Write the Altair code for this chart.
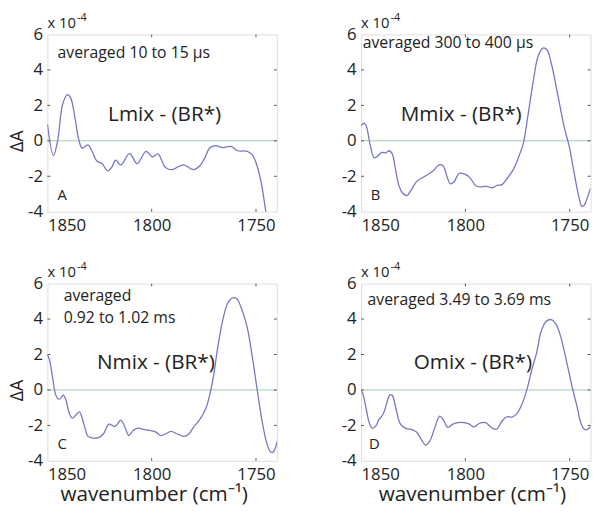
import altair as alt
import pandas as pd

# ---------------- data ----------------
X_DOMAIN = [1740, 1850]
Y_DOMAIN = [-4, 6]
X_TICKS = [1850, 1800, 1750]
Y_TICKS = [-4, -2, 0, 2, 4, 6]

wn_A = [1850, 1847.1, 1845.1, 1842.7, 1840.4, 1838.8, 1836.8, 1834.9, 1833.3, 1830.6,
        1828.6, 1826.3, 1823.9, 1821.1, 1819.2, 1817.3, 1814.8, 1810.6, 1807.0, 1802.7,
        1799.6, 1797.0, 1793.4, 1790.2, 1787.9, 1784.7, 1780.0, 1776.9, 1774.5, 1772.2,
        1769.4, 1765.9, 1762.0, 1758.9, 1754.2, 1751.8, 1749.5, 1747.4, 1745.8, 1744.8, 1744.0]
dA_A = [0.95, -0.83, 0.0, 2.05, 2.6, 2.41, 1.32, 0.04, -0.41, -0.23,
        -0.59, -1.14, -1.27, -1.69, -1.5, -1.09, -1.36, -0.72, -1.29, -0.59,
        -0.9, -0.74, -1.5, -1.63, -1.5, -1.36, -1.63, -1.41, -0.96, -0.41,
        -0.27, -0.38, -0.32, -0.56, -0.59, -0.78, -1.41, -2.42, -3.6, -4.4, -5.2]

wn_B = [1850, 1848.4, 1847.3, 1845.8, 1843.7, 1842.1, 1840.1, 1838.2, 1836.6, 1835.1,
        1833.5, 1831.9, 1830.0, 1828.0, 1826.0, 1823.3, 1819.4, 1815.4, 1812.6, 1810.7,
        1808.7, 1807.3, 1805.5, 1802.9, 1800.5, 1797.7, 1795.0, 1792.6, 1790.3, 1787.1,
        1784.8, 1782.4, 1780.1, 1776.9, 1774.6, 1772.2, 1769.9, 1767.5, 1765.1, 1762.8,
        1760.9, 1758.9, 1755.7, 1752.6, 1750.2, 1747.9, 1745.8, 1744.2, 1743.1, 1741.6, 1740.0]
dA_B = [0.86, 0.99, 0.77, -0.14, -0.96, -0.87, -0.65, -0.68, -0.56, -0.72,
        -1.6, -2.51, -2.96, -3.09, -2.78, -2.29, -2.0, -1.69, -1.36, -1.41,
        -2.05, -2.42, -2.32, -1.83, -1.87, -2.09, -2.54, -2.6, -2.56, -2.65,
        -2.51, -2.47, -2.14, -1.6, -0.96, -0.14, 1.5, 3.32, 4.78, 5.23,
        5.14, 4.42, 2.6, 0.77, -0.32, -1.78, -3.05, -3.69, -3.65, -3.23, -2.69]

wn_C = [1850, 1849.0, 1847.4, 1846.2, 1845.1, 1844.0, 1842.4, 1841.1, 1839.6, 1838.0,
        1836.1, 1834.6, 1832.5, 1830.5, 1828.3, 1825.5, 1823.1, 1820.5, 1817.6, 1814.8,
        1812.5, 1811.0, 1809.0, 1806.7, 1803.5, 1800.4, 1798.0, 1795.7, 1793.3, 1790.7,
        1787.9, 1784.7, 1782.4, 1780.0, 1776.9, 1774.1, 1772.2, 1770.6, 1768.3, 1765.9,
        1763.6, 1761.2, 1759.3, 1757.3, 1754.2, 1751.8, 1749.5, 1747.1, 1744.8, 1743.2,
        1742.1, 1740.5, 1740.0]
dA_C = [1.98, 1.7, 0.61, -0.2, -0.48, -0.51, -0.29, -0.57, -1.29, -1.6,
        -1.38, -1.24, -1.93, -2.62, -2.71, -2.69, -2.47, -1.93, -2.06, -1.7,
        -2.2, -2.57, -2.3, -2.15, -2.24, -2.3, -2.38, -2.57, -2.47, -2.33,
        -2.47, -2.62, -2.51, -2.11, -1.66, -1.06, -0.29, 0.62, 2.43, 3.97,
        4.88, 5.19, 5.16, 4.7, 3.52, 1.89, 0.07, -1.75, -3.02, -3.47,
        -3.53, -3.2, -2.9]

wn_D = [1850, 1849.2, 1847.6, 1846.1, 1844.5, 1842.9, 1841.4, 1839.5, 1837.9, 1836.3,
        1835.1, 1833.5, 1831.1, 1828.8, 1825.6, 1823.3, 1820.9, 1819.0, 1817.0, 1814.6,
        1812.3, 1810.7, 1808.4, 1806.0, 1803.6, 1800.5, 1798.1, 1795.8, 1793.4, 1790.3,
        1787.9, 1786.4, 1784.8, 1782.4, 1780.1, 1777.7, 1775.4, 1773.0, 1770.6, 1768.3,
        1765.9, 1763.6, 1761.2, 1758.9, 1756.5, 1754.2, 1751.0, 1748.6, 1746.3, 1744.7,
        1743.1, 1741.6, 1740.0]
dA_D = [-0.02, -0.2, -1.02, -1.84, -2.17, -2.02, -1.66, -1.38, -0.84, -0.29,
        -0.29, -0.93, -1.93, -2.15, -2.24, -2.38, -2.84, -3.11, -2.87, -2.11,
        -1.47, -1.66, -2.11, -1.93, -1.84, -1.84, -1.93, -2.08, -1.89, -1.84,
        -2.08, -2.2, -2.2, -1.75, -1.51, -1.53, -1.35, -0.84, -0.02, 1.07,
        2.07, 3.34, 3.88, 3.97, 3.7, 2.97, 1.34, 0.07, -1.02, -1.84,
        -2.2, -2.24, -2.06]

# annotation texts: (text, wavenumber, value)
notes_A = [("averaged 10 to 15 μs", 1845.1, 4.69)]
notes_B = [("averaged 300 to 400 μs", 1849.2, 5.23)]
notes_C = [("averaged", 1842.2, 5.02), ("0.92 to 1.02 ms", 1842.2, 3.79)]
notes_D = [("averaged 3.49 to 3.69 ms", 1846.9, 4.8)]

labels_main = {"A": ("Lmix - (BR*)", 1793.8, 1.14), "B": ("Mmix - (BR*)", 1802.0, 1.14),
               "C": ("Nmix - (BR*)", 1798.0, 1.16), "D": ("Omix - (BR*)", 1796.4, 1.16)}
letters = {"A": (1845.1, -3.34), "B": (1845.3, -3.34), "C": (1845.1, -3.32), "D": (1846.2, -3.32)}

X_TITLE = "wavenumber (cm⁻¹)"
Y_TITLE = "ΔA"

# ---------------- styling ----------------
FONT = "Open Sans"
CURVE = "#7676c6"
ZERO = "#9ccbb8"
BOX = "#555555"
TXT = "#222222"
W, H = 233, 180
TICK_X = 1.4   # inward tick length in wavenumber units
TICK_Y = 0.16  # inward tick length in dA units


def panel(key, wn, dA, notes, show_x_title, show_y_title, xtitle_x):
    xs = alt.Scale(domain=X_DOMAIN, reverse=True, nice=False, zero=False)
    ys = alt.Scale(domain=Y_DOMAIN, nice=False, zero=False)

    xaxis = alt.Axis(values=X_TICKS, ticks=False, domain=False, grid=False,
                     labelFontSize=17, labelPadding=6, labelColor=TXT, labelFont=FONT,
                     labelExpr="'' + datum.value",
                     title=X_TITLE if show_x_title else "",
                     titleFontSize=21, titleFontWeight="normal", titleColor=TXT, titleFont=FONT,
                     titleX=xtitle_x, titleY=40, titleBaseline="alphabetic", titleAlign="center")
    yaxis = alt.Axis(values=Y_TICKS, ticks=False, domain=False, grid=False,
                     labelFontSize=17, labelPadding=5, labelColor=TXT, labelFont=FONT,
                     labelExpr="'' + datum.value",
                     title=Y_TITLE if show_y_title else "",
                     titleFontSize=18, titleFontWeight="normal", titleColor=TXT, titleFont=FONT,
                     titleAngle=270, titleX=-25.5, titleY=108, titleBaseline="alphabetic",
                     titleAlign="center")

    def X(f):
        return alt.X(f, scale=xs, axis=xaxis)

    def Y(f):
        return alt.Y(f, scale=ys, axis=yaxis)

    curve_df = pd.DataFrame({"wn": wn, "dA": dA})
    curve = alt.Chart(curve_df).mark_line(
        color=CURVE, strokeWidth=1.3, clip=True, interpolate="catmull-rom"
    ).encode(x=X("wn:Q"), y=Y("dA:Q"), order="wn:Q")

    zero = alt.Chart(pd.DataFrame({"z": [0]})).mark_rule(color=ZERO, strokeWidth=1).encode(
        y=Y("z:Q")
    )

    # inward ticks (MATLAB style)
    yt = pd.DataFrame(
        [{"a": X_DOMAIN[1], "b": X_DOMAIN[1] - TICK_X, "v": v} for v in Y_TICKS[1:-1]]
        + [{"a": X_DOMAIN[0], "b": X_DOMAIN[0] + TICK_X, "v": v} for v in Y_TICKS[1:-1]]
    )
    yticks = alt.Chart(yt).mark_rule(color=BOX, strokeWidth=1).encode(
        x=X("a:Q"), x2="b:Q", y=Y("v:Q")
    )
    xt = pd.DataFrame(
        [{"t": t, "a": Y_DOMAIN[0], "b": Y_DOMAIN[0] + TICK_Y} for t in X_TICKS[1:]]
        + [{"t": t, "a": Y_DOMAIN[1], "b": Y_DOMAIN[1] - TICK_Y} for t in X_TICKS[1:]]
    )
    xticks = alt.Chart(xt).mark_rule(color=BOX, strokeWidth=1).encode(
        x=X("t:Q"), y=Y("a:Q"), y2="b:Q"
    )

    notes_df = pd.DataFrame(notes, columns=["label", "tx", "ty"])
    note_layer = alt.Chart(notes_df).mark_text(
        align="left", baseline="alphabetic", fontSize=16, font=FONT, color=TXT
    ).encode(x=X("tx:Q"), y=Y("ty:Q"), text="label:N")

    m = labels_main[key]
    main_df = pd.DataFrame([m], columns=["label", "tx", "ty"])
    main_layer = alt.Chart(main_df).mark_text(
        align="center", baseline="alphabetic", fontSize=21, font=FONT, color=TXT
    ).encode(x=X("tx:Q"), y=Y("ty:Q"), text="label:N")

    lx, ly = letters[key]
    let_df = pd.DataFrame([{"label": key, "tx": lx, "ty": ly}])
    let_layer = alt.Chart(let_df).mark_text(
        align="left", baseline="alphabetic", fontSize=15, font=FONT, color=TXT
    ).encode(x=X("tx:Q"), y=Y("ty:Q"), text="label:N")

    # axis exponent "x 10^-4"
    one = pd.DataFrame({"k": [0]})
    exp_base = alt.Chart(one).mark_text(
        align="left", baseline="alphabetic", fontSize=15, font=FONT, color=TXT
    ).encode(x=alt.value(0), y=alt.value(-7), text=alt.value("x 10"))
    exp_sup = alt.Chart(one).mark_text(
        align="left", baseline="alphabetic", fontSize=11, font=FONT, color=TXT
    ).encode(x=alt.value(30), y=alt.value(-13.5), text=alt.value("-4"))

    return alt.layer(zero, curve, yticks, xticks, note_layer, main_layer, let_layer,
                     exp_base, exp_sup).properties(width=W, height=H)


pA = panel("A", wn_A, dA_A, notes_A, False, True, 0)
pB = panel("B", wn_B, dA_B, notes_B, False, False, 0)
pC = panel("C", wn_C, dA_C, notes_C, True, True, 108)
pD = panel("D", wn_D, dA_D, notes_D, True, False, 112.5)

chart = alt.vconcat(
    alt.hconcat(pA, pB, spacing=63.5),
    alt.hconcat(pC, pD, spacing=63.5),
    spacing=27,
).properties(padding=0).configure_view(
    stroke=BOX, strokeWidth=1
).configure(font=FONT)

chart.save("out.html", embed_options={"renderer": "svg", "actions": False})
